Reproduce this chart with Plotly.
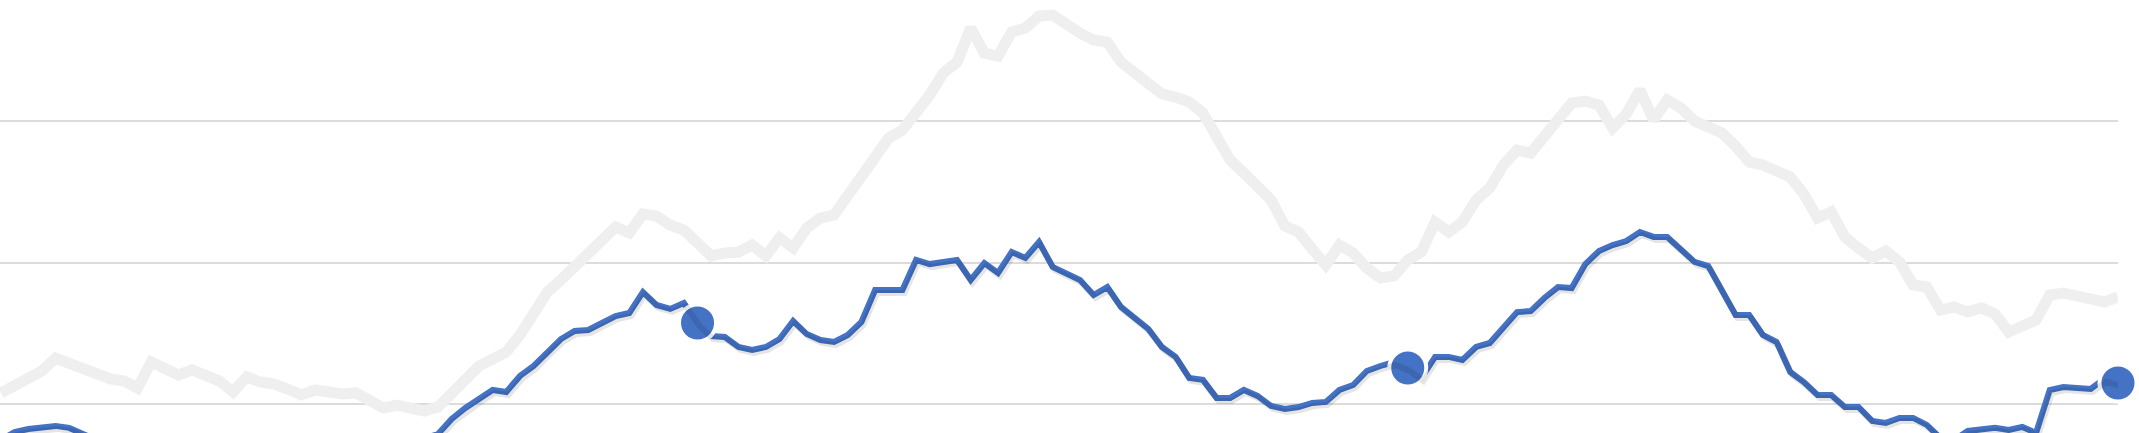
import plotly.graph_objects as go

# weekly index, three years of data (0..155)
weeks = list(range(156))

grey_series = [
    10.81, 11.37, 11.87, 12.36, 13.27, 12.85, 12.57, 12.22, 11.80, 11.65,
    11.16, 12.99, 12.50, 12.08, 12.43, 11.94, 11.65, 10.88, 11.94, 11.58,
    11.44, 11.09, 10.67, 11.02, 10.81, 10.74, 10.81, 10.18, 9.75, 9.96,
    9.82, 9.54, 9.82, 10.74, 11.87, 12.71, 13.20, 13.70, 14.89, 16.58,
    17.92, 18.77, 19.75, 20.60, 21.44, 22.50, 22.08, 23.42, 23.27, 22.64,
    22.29, 21.44, 20.46, 20.67, 20.74, 21.23, 20.46, 21.73, 21.02, 22.43,
    23.13, 23.35, 24.75, 26.02, 27.71, 28.77, 29.33, 30.53, 31.80, 33.35,
    34.12, 36.51, 34.75, 34.54, 36.23, 36.51, 37.36, 37.43, 36.73, 36.16,
    35.67, 35.53, 34.12, 33.42, 32.57, 31.87, 31.65, 31.30, 30.53, 28.77,
    27.22, 26.30, 25.46, 24.40, 22.57, 22.15, 20.95, 19.82, 21.23, 20.67,
    19.61, 18.91, 19.05, 20.18, 20.74, 22.85, 22.15, 22.85, 24.40, 25.25,
    26.87, 27.92, 27.71, 28.84, 30.04, 31.23, 31.37, 31.09, 29.47, 30.46,
    32.15, 30.04, 31.44, 30.88, 29.96, 29.47, 29.12, 28.20, 27.08, 26.87,
    26.37, 26.02, 24.82, 23.13, 23.56, 21.80, 21.02, 20.32, 20.81, 20.04,
    18.42, 18.27, 16.65, 16.87, 16.51, 16.80, 16.37, 15.11, 15.53, 15.95,
    17.71, 17.85, 17.64, 17.50, 17.22, 17.57,
]

blue_series = [
    7.50, 8.06, 8.27, 8.35, 8.49, 8.35, 7.99, 7.50, 7.08, 6.80,
    6.50, 6.70, 6.30, 6.00, 6.20, 5.80, 5.50, 5.30, 5.60, 5.20,
    5.00, 5.30, 5.00, 5.20, 5.50, 5.70, 6.00, 6.30, 6.60, 7.00,
    7.30, 7.60, 7.92, 8.98, 9.75, 10.39, 11.02, 10.88, 12.01, 12.71,
    13.70, 14.61, 15.18, 15.25, 15.74, 16.23, 16.44, 17.92, 17.01, 16.73,
    17.15, 15.74, 14.82, 14.75, 14.05, 13.84, 14.05, 14.61, 15.88, 14.96,
    14.54, 14.40, 14.89, 15.81, 18.06, 18.06, 18.06, 20.18, 19.89, 20.04,
    20.18, 18.77, 19.96, 19.26, 20.74, 20.32, 21.44, 19.68, 19.26, 18.77,
    17.71, 18.27, 16.87, 16.09, 15.32, 14.05, 13.35, 11.87, 11.73, 10.46,
    10.46, 11.02, 10.60, 9.89, 9.68, 9.82, 10.11, 10.18, 11.02, 11.37,
    12.36, 12.71, 12.99, 12.57, 11.87, 13.35, 13.35, 13.13, 14.05, 14.33,
    15.39, 16.51, 16.58, 17.50, 18.27, 18.20, 19.89, 20.81, 21.23, 21.51,
    22.15, 21.80, 21.80, 20.88, 20.04, 19.75, 17.92, 16.30, 16.30, 14.89,
    14.40, 12.29, 11.58, 10.67, 10.67, 9.82, 9.82, 8.84, 8.70, 9.05,
    9.05, 8.56, 7.64, 7.50, 8.13, 8.27, 8.35, 8.20, 8.42, 7.99,
    11.02, 11.23, 11.16, 11.09, 11.80, 11.51,
]

# year-end weeks highlighted with a marker
year_end_weeks = [51, 103, 155]

BLUE = "#4472C4"
GREY = "#efefef"

X_RANGE = [-0.07, 155]
Y_RANGE = [7.99, 38.49]

fig = go.Figure()

fig.add_trace(go.Scatter(
    x=weeks, y=grey_series, mode="lines",
    line=dict(color=GREY, width=11),
    hoverinfo="skip", showlegend=False,
))

# soft drop shadow under the blue line (same data, axes nudged a few px)
fig.add_trace(go.Scatter(
    x=weeks, y=blue_series, mode="lines",
    line=dict(color="rgba(0,0,0,0.10)", width=6),
    xaxis="x2", yaxis="y2",
    hoverinfo="skip", showlegend=False,
))

fig.add_trace(go.Scatter(
    x=weeks, y=blue_series, mode="lines",
    line=dict(color=BLUE, width=6),
    showlegend=False,
))

fig.add_trace(go.Scatter(
    x=year_end_weeks,
    y=[blue_series[i] for i in year_end_weeks],
    mode="markers",
    marker=dict(color=BLUE, size=37, line=dict(color="white", width=4)),
    cliponaxis=False,
    showlegend=False,
))

px_per_x = 2118 / (X_RANGE[1] - X_RANGE[0])
px_per_y = 433 / (Y_RANGE[1] - Y_RANGE[0])
dx = 2 / px_per_x
dy = 3 / px_per_y

fig.update_layout(
    width=2139, height=433,
    margin=dict(l=0, r=21, t=0, b=0),
    paper_bgcolor="white", plot_bgcolor="white",
    xaxis=dict(range=X_RANGE, visible=False, showgrid=False, zeroline=False),
    yaxis=dict(
        range=Y_RANGE, tick0=0, dtick=10,
        showgrid=True, gridcolor="#dcdcdc", gridwidth=2,
        showticklabels=False, ticks="", zeroline=False, showline=False,
    ),
    xaxis2=dict(range=[X_RANGE[0] - dx, X_RANGE[1] - dx], overlaying="x",
                visible=False, showgrid=False, zeroline=False),
    yaxis2=dict(range=[Y_RANGE[0] + dy, Y_RANGE[1] + dy], overlaying="y",
                visible=False, showgrid=False, zeroline=False),
)

# drop the page's default body margin so the chart sits flush at 0,0
fig.write_html(
    "out.html",
    config={"displayModeBar": False},
    post_script="document.body.style.margin='0';document.body.style.overflow='hidden';",
)
